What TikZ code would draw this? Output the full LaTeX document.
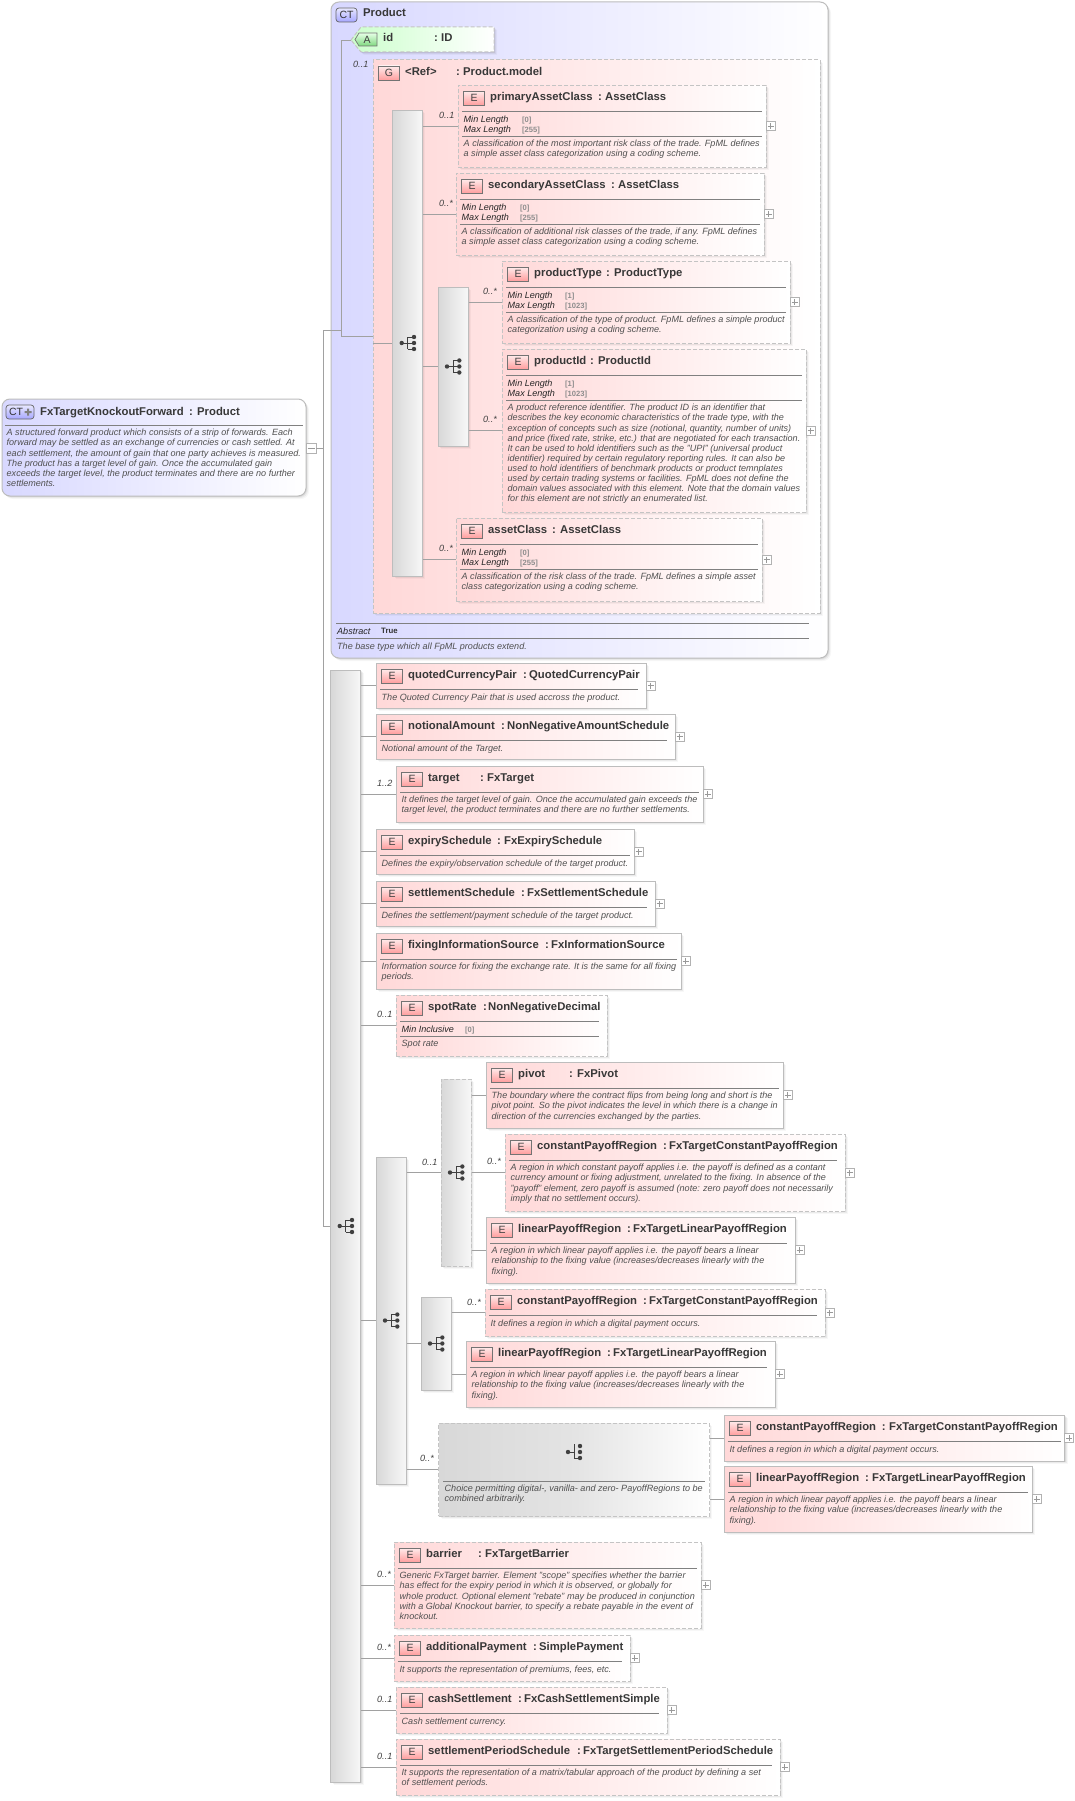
\documentclass[tikz,border=0pt]{standalone}
\usepackage{fontspec}
\setmainfont{Liberation Sans}
\usetikzlibrary{shadows,calc}
\definecolor{pinkf}{HTML}{FFD8D8}
\definecolor{bluef}{HTML}{D8D8FF}
\definecolor{greenf}{HTML}{CCFFCC}
\definecolor{greyf}{HTML}{D8D8D8}
\definecolor{edge}{HTML}{BDBDBD}
\definecolor{dashc}{HTML}{C4C4C4}
\definecolor{txt}{HTML}{383838}
\definecolor{dsc}{HTML}{505050}
\tikzset{
  x=1pt,y=-1pt,
  soft/.style={general shadow={shadow xshift=3pt,shadow yshift=-3pt,fill=black,opacity=.03},
               general shadow={shadow xshift=2pt,shadow yshift=-2pt,fill=black,opacity=.05},
               general shadow={shadow xshift=1pt,shadow yshift=-1pt,fill=black,opacity=.07}},
  solidbox/.style={rectangle,inner sep=0,draw=edge,line width=1pt,left color=pinkf,middle color=pinkf!55!white,right color=white,soft},
  dashbox/.style={solidbox,draw=dashc,dash pattern=on 4pt off 2pt,line width=1pt},
  groupbox/.style={dashbox},
  barbox/.style={rectangle,inner sep=0,draw=edge,line width=1pt,left color=greyf,right color=white!97!black,soft},
  dashbar/.style={barbox,draw=dashc,dash pattern=on 4pt off 2pt},
  typebox/.style={rectangle,inner sep=0,rounded corners=8pt,draw=edge,line width=1pt,left color=bluef,middle color=bluef!55!white,right color=white,soft},
  conn/.style={draw=edge!85!black,line width=.7pt},
  rulel/.style={draw=black!50,line width=.55pt},
  etitle/.style={inner sep=0,anchor=base west,text=txt,font=\fontsize{11.3}{13}\selectfont\bfseries},
  desc/.style={inner sep=0,anchor=north west,align=left,text=dsc,font=\fontsize{9.05}{10.13}\selectfont\itshape,execute at begin node={\rule{0pt}{7pt}}},
  facet/.style={inner sep=0,anchor=base west,text=black!85,font=\fontsize{9.05}{10}\selectfont\itshape},
  fval/.style={inner sep=0,anchor=base west,text=black!45,font=\fontsize{7.6}{9}\selectfont\bfseries},
  card/.style={inner sep=0,anchor=base west,text=black!75,font=\fontsize{9.05}{10}\selectfont\itshape},
  eicon/.style={rectangle,inner sep=0,draw=black!55,line width=.7pt,top color=pinkf!50!white,bottom color=red!38!white,minimum width=21pt,minimum height=14pt,text=black!75,font=\fontsize{10.5}{12}\selectfont},
  cticon/.style={rectangle,rounded corners=3pt,inner sep=0,draw=black!60,line width=.7pt,top color=bluef!60!white,bottom color=blue!35!white,minimum height=14pt,text=black!80,font=\fontsize{10.5}{12}\selectfont},
  plusbox/.style={rectangle,inner sep=0,draw=black!30,line width=.6pt,fill=white,minimum size=9pt,
     path picture={\draw[black!40,line width=.6pt] ([xshift=1.5pt]path picture bounding box.west)--([xshift=-1.5pt]path picture bounding box.east)
       ([yshift=-1.5pt]path picture bounding box.north)--([yshift=1.5pt]path picture bounding box.south);}},
  minusbox/.style={rectangle,inner sep=0,draw=black!30,line width=.6pt,fill=white,minimum size=10pt,
     path picture={\draw[black!40,line width=.6pt] ([xshift=1.5pt]path picture bounding box.west)--([xshift=-1.5pt]path picture bounding box.east);}},
}
\newcommand\eboxnp[6]{\def\nm{#1}\def\X{#3}\def\Y{#4}\def\XR{#5}%
  \node[#2,minimum width={#5-#3},minimum height={#6-#4}] (#1) at ({(#3+#5)/2},{(#4+#6)/2}) {};}
\newcommand\ebox[6]{\eboxnp{#1}{#2}{#3}{#4}{#5}{#6}
  \node[plusbox] (#1-plus) at ({#5+4.5},{(#4+#6)/2}) {};}
\newcommand\etitle[5][4]{%
  \node[eicon] (\nm-icon) at (\X+16,\Y+13) {E};
  \node[etitle] (\nm-title) at (\X+32,\Y+15) {#2};
  \node[etitle] (\nm-colon) at (#3,\Y+15) {:};
  \node[etitle] (\nm-type) at (#4,\Y+15) {#5};
  \def\rr{#1}%
  \draw[rulel] (\X+4,\Y+26) -- (\XR-\rr,\Y+26);}
\newcommand\etwo[3][64]{% Min/Max length facets
  \node[facet] (\nm-flab) at (\X+5.5,\Y+37) {Min Length};
  \node[fval] (\nm-fval) at (\X+#1,\Y+37) {[#2]};
  \node[facet] (\nm-glab) at (\X+5.5,\Y+47) {Max Length};
  \node[fval] (\nm-gval) at (\X+#1,\Y+47) {[#3]};
  \draw[rulel] (\X+4,\Y+51) -- (\XR-\rr,\Y+51);}
\newcommand\edesc[2]{\node[desc] (\nm-desc) at (\X+5.5,\Y+#1-4) {#2};}
\newcommand\seqicon[1]{\begin{scope}[shift={(#1.center)}]
  \draw[black!75,line width=.9pt] (-6,0)--(0,0) (0,-6)--(0,6) (0,-6)--(6.3,-6) (0,0)--(6.3,0) (0,6)--(6.3,6);
  \fill[black!75] (-6,0) circle (2.2) (6.3,-6) circle (2.2) (6.3,0) circle (2.2) (6.3,6) circle (2.2);
  \end{scope}}
\newcommand\cardl[4]{\node[card] (#1) at (#2,#3+3) {#4};}
\begin{document}
\begin{tikzpicture}
\useasboundingbox[fill=white] (0,0) rectangle (1075,1801);

% main type
\node[typebox,minimum width=304pt,minimum height=97pt] (main) at (154,447.5) {};
\node[cticon,minimum width=28pt] (main-icon) at (20,412) {CT\kern8pt};
\fill[black!50] (27.2,408.5) rectangle (29.2,415.5) (24.7,411) rectangle (31.7,413);
\node[etitle] (main-title) at (40,415) {FxTargetKnockoutForward};
\node[etitle] (main-colon) at (189,415) {:};
\node[etitle] (main-type) at (197,415) {Product};
\draw[rulel] (5,425) -- (303,425);
\node[desc] (main-desc) at (6.5,429) {A structured forward product which consists of a strip of forwards. Each\\forward may be settled as an exchange of currencies or cash settled. At\\each settlement, the amount of gain that one party achieves is measured.\\The product has a target level of gain. Once the accumulated gain\\exceeds the target level, the product terminates and there are no further\\settlements.};
\node[minusbox] (main-minus) at (311,448) {};
\coordinate (spine) at (323.5,448);

% Product
\node[typebox,minimum width=497pt,minimum height=656pt] (prod) at (579.5,330) {};
\node[cticon,minimum width=21pt] (prod-icon) at (346.5,15) {CT};
\node[etitle] (prod-title) at (363,17) {Product};
\coordinate (pfork) at (341.3,330);

% attribute
\path[draw=dashc,line width=1pt,dash pattern=on 4pt off 2pt,left color=greenf,right color=white,soft]
  (351,40) -- (361,27) -- (494,27) -- (494,52) -- (361,52) -- cycle;
\coordinate (attr) at (351,40);
\path[draw=black!55,line width=.7pt,top color=greenf!50!white,bottom color=green!70!black!50!white]
  (355,39.5) -- (359,33) -- (377,33) -- (377,46) -- (359,46) -- cycle;
\node[inner sep=0,text=black!75,font=\fontsize{10.5}{12}\selectfont] (attr-icon) at (367,39.7) {A};
\node[etitle] (attr-name) at (383,42) {id};
\node[etitle] (attr-colon) at (434,42) {:};
\node[etitle] (attr-type) at (441,42) {ID};
\cardl{l-attr}{353}{64}{0..1}

% group
\node[groupbox,minimum width=447pt,minimum height=553pt] (grp) at (596.5,336.5) {};
\node[eicon] (grp-icon) at (389,73) {G};
\node[etitle] (grp-title) at (405,75) {<Ref>};
\node[etitle] (grp-colon) at (456,75) {:};
\node[etitle] (grp-type) at (463,75) {Product.model};

% bars of group
\node[barbox,minimum width=29.5pt,minimum height=466pt] (bar1) at (407.7,343) {};
\seqicon{bar1}
\node[barbox,minimum width=30pt,minimum height=159pt] (bar2) at (453,366.5) {};
\seqicon{bar2}

\ebox{primary}{dashbox}{458}{85}{766}{167}
\etitle{primaryAssetClass}{598}{605}{AssetClass}
\etwo{0}{255}
\edesc{59}{A classification of the most important risk class of the trade. FpML defines\\a simple asset class categorization using a coding scheme.}
\cardl{l-primary}{439}{115}{0..1}

\ebox{secondary}{dashbox}{456}{173}{764}{255}
\etitle{secondaryAssetClass}{611}{618}{AssetClass}
\etwo{0}{255}
\edesc{59}{A classification of additional risk classes of the trade, if any. FpML defines\\a simple asset class categorization using a coding scheme.}
\cardl{l-secondary}{439}{203}{0..*}

\ebox{ptype}{dashbox}{502}{261}{790}{343}
\etitle{productType}{606}{614}{ProductType}
\etwo[63]{1}{1023}
\edesc{59}{A classification of the type of product. FpML defines a simple product\\categorization using a coding scheme.}
\cardl{l-ptype}{483}{291}{0..*}

\ebox{pid}{dashbox}{502}{349}{806}{512}
\etitle{productId}{590}{598}{ProductId}
\etwo[63]{1}{1023}
\edesc{59}{A product reference identifier. The product ID is an identifier that\\describes the key economic characteristics of the trade type, with the\\exception of concepts such as size (notional, quantity, number of units)\\and price (fixed rate, strike, etc.) that are negotiated for each transaction.\\It can be used to hold identifiers such as the "UPI" (universal product\\identifier) required by certain regulatory reporting rules. It can also be\\used to hold identifiers of benchmark products or product temnplates\\used by certain trading systems or facilities. FpML does not define the\\domain values associated with this element. Note that the domain values\\for this element are not strictly an enumerated list.}
\cardl{l-pid}{483}{419}{0..*}

\ebox{assetc}{dashbox}{456}{518}{762}{601}
\etitle{assetClass}{552}{560}{AssetClass}
\etwo{0}{255}
\edesc{59}{A classification of the risk class of the trade. FpML defines a simple asset\\class categorization using a coding scheme.}
\cardl{l-assetc}{439}{548}{0..*}

% abstract facets
\draw[rulel] (336,623) -- (809,623);
\node[facet] (abs-lab) at (337,634) {Abstract};
\node[inner sep=0,anchor=base west,text=black!80,font=\fontsize{7.8}{9}\selectfont\bfseries] (abs-val) at (381,633.5) {True};
\draw[rulel] (336,638) -- (809,638);
\node[desc] (prod-desc) at (337,642) {The base type which all FpML products extend.};

% big sequence
\node[barbox,minimum width=30pt,minimum height=1112pt] (bar0) at (345.7,1226) {};
\seqicon{bar0}

\ebox{quoted}{solidbox}{376}{663}{646}{708}
\etitle[8]{quotedCurrencyPair}{523}{529}{QuotedCurrencyPair}
\edesc{34}{The Quoted Currency Pair that is used accross the product.}

\ebox{notional}{solidbox}{376}{714}{675}{759}
\etitle[8]{notionalAmount}{501}{507}{NonNegativeAmountSchedule}
\edesc{34}{Notional amount of the Target.}

\ebox{target}{solidbox}{396}{766}{703}{822}
\etitle{target}{480}{487}{FxTarget}
\edesc{34}{It defines the target level of gain. Once the accumulated gain exceeds the\\target level, the product terminates and there are no further settlements.}
\cardl{l-target}{377}{783}{1..2}

\ebox{expiry}{solidbox}{376}{829}{634}{874}
\etitle{expirySchedule}{497}{504}{FxExpirySchedule}
\edesc{34}{Defines the expiry/observation schedule of the target product.}

\ebox{settle}{solidbox}{376}{881}{655}{926}
\etitle[8]{settlementSchedule}{521}{527}{FxSettlementSchedule}
\edesc{34}{Defines the settlement/payment schedule of the target product.}

\ebox{fixing}{solidbox}{376}{933}{681}{989}
\etitle{fixingInformationSource}{545}{551}{FxInformationSource}
\edesc{34}{Information source for fixing the exchange rate. It is the same for all fixing\\periods.}

\eboxnp{spot}{dashbox}{396}{995}{607}{1056}
\etitle[8]{spotRate}{483}{488}{NonNegativeDecimal}
\node[facet] (spot-flab) at (\X+5.5,\Y+37) {Min Inclusive};
\node[fval] (spot-fval) at (\X+69,\Y+37) {[0]};
\draw[rulel] (\X+4,\Y+41) -- (\XR-8,\Y+41);
\edesc{48}{Spot rate}
\cardl{l-spot}{377}{1014}{0..1}

% payoff structure
\node[barbox,minimum width=30pt,minimum height=327pt] (bar3) at (391,1320.5) {};
\seqicon{bar3}
\node[dashbar,minimum width=30pt,minimum height=187pt] (cho1) at (456,1172.5) {};
\seqicon{cho1}
\cardl{l-cho1}{422}{1162}{0..1}

\ebox{pivot}{solidbox}{486}{1062}{783}{1128}
\etitle{pivot}{569}{577}{FxPivot}
\edesc{34}{The boundary where the contract flips from being long and short is the\\pivot point. So the pivot indicates the level in which there is a change in\\direction of the currencies exchanged by the parties.}

\ebox{const1}{dashbox}{505}{1134}{845}{1211}
\etitle[8]{constantPayoffRegion}{663}{669}{FxTargetConstantPayoffRegion}
\edesc{34}{A region in which constant payoff applies i.e. the payoff is defined as a contant\\currency amount or fixing adjustment, unrelated to the fixing. In absence of the\\"payoff" element, zero payoff is assumed (note: zero payoff does not necessarily\\imply that no settlement occurs).}
\cardl{l-const1}{487}{1161}{0..*}

\ebox{lin1}{solidbox}{486}{1217}{795}{1283}
\etitle[8]{linearPayoffRegion}{627}{633}{FxTargetLinearPayoffRegion}
\edesc{34}{A region in which linear payoff applies i.e. the payoff bears a linear\\relationship to the fixing value (increases/decreases linearly with the\\fixing).}

\node[barbox,minimum width=30pt,minimum height=93pt] (bar4) at (436,1343.5) {};
\seqicon{bar4}

\ebox{const2}{dashbox}{485}{1289}{825}{1336}
\etitle[8]{constantPayoffRegion}{643}{649}{FxTargetConstantPayoffRegion}
\edesc{34}{It defines a region in which a digital payment occurs.}
\cardl{l-const2}{467}{1302}{0..*}

\ebox{lin2}{solidbox}{466}{1341}{775}{1407}
\etitle[8]{linearPayoffRegion}{607}{613}{FxTargetLinearPayoffRegion}
\edesc{34}{A region in which linear payoff applies i.e. the payoff bears a linear\\relationship to the fixing value (increases/decreases linearly with the\\fixing).}

% choice with annotation
\node[dashbar,right color=white,middle color=greyf!70!white,minimum width=270.5pt,minimum height=93pt] (cho2) at (574.2,1469.5) {};
\draw[black!75,line width=.9pt] (568,1452)--(574,1452) (574,1444)--(574,1458)--(580,1458);
\fill[black!75] (568,1452) circle (2.2) (580,1446) circle (2.2) (580,1452) circle (2.2) (580,1458) circle (2.2);
\draw[rulel] (443,1481) -- (705,1481);
\node[desc] (cho2-desc) at (444.5,1485) {Choice permitting digital-, vanilla- and zero- PayoffRegions to be\\combined arbitrarily.};
\cardl{l-cho2}{420}{1458}{0..*}

\ebox{const3}{solidbox}{724}{1415}{1064.5}{1461}
\etitle{constantPayoffRegion}{881.6}{889}{FxTargetConstantPayoffRegion}
\edesc{34}{It defines a region in which a digital payment occurs.}

\ebox{lin3}{solidbox}{724}{1466}{1032}{1532}
\etitle{linearPayoffRegion}{865}{872}{FxTargetLinearPayoffRegion}
\edesc{34}{A region in which linear payoff applies i.e. the payoff bears a linear\\relationship to the fixing value (increases/decreases linearly with the\\fixing).}

\ebox{barrier}{dashbox}{394}{1542}{701}{1628}
\etitle{barrier}{478}{485}{FxTargetBarrier}
\edesc{34}{Generic FxTarget barrier. Element "scope" specifies whether the barrier\\has effect for the expiry period in which it is observed, or globally for\\whole product. Optional element "rebate" may be produced in conjunction\\with a Global Knockout barrier, to specify a rebate payable in the event of\\knockout.}
\cardl{l-barrier}{377}{1574}{0..*}

\ebox{addpay}{dashbox}{394}{1635}{630}{1681}
\etitle[8]{additionalPayment}{533}{539}{SimplePayment}
\edesc{34}{It supports the representation of premiums, fees, etc.}
\cardl{l-addpay}{377}{1647}{0..*}

\ebox{cash}{dashbox}{396}{1687}{667}{1733}
\etitle[8]{cashSettlement}{518}{524}{FxCashSettlementSimple}
\edesc{34}{Cash settlement currency.}
\cardl{l-cash}{377}{1699}{0..1}

\ebox{period}{dashbox}{396}{1739}{780}{1795}
\etitle[8]{settlementPeriodSchedule}{577}{583}{FxTargetSettlementPeriodSchedule}
\edesc{34}{It supports the representation of a matrix/tabular approach of the product by defining a set\\of settlement periods.}
\cardl{l-period}{377}{1756}{0..1}

% connectors
\draw[conn] (main-minus.east) -- (spine);
\draw[conn] (spine |- prod.west) -- (spine |- bar0.west) -- (bar0.west);
\draw[conn] (spine |- prod.west) -- (pfork);
\draw[conn] (attr) -- (attr -| pfork) -- (pfork |- grp.west) -- (grp.west);
\draw[conn] (grp.west |- bar1.west) -- (bar1.west);
\draw[conn] (bar1.east |- primary.west) -- (primary.west);
\draw[conn] (bar1.east |- secondary.west) -- (secondary.west);
\draw[conn] (bar1.east |- bar2.west) -- (bar2.west);
\draw[conn] (bar2.east |- ptype.west) -- (ptype.west);
\draw[conn] (bar2.east |- pid.west) -- (pid.west);
\draw[conn] (bar1.east |- assetc.west) -- (assetc.west);
\foreach \e in {quoted,notional,target,expiry,settle,fixing,spot,bar3,barrier,addpay,cash,period}
  \draw[conn] (bar0.east |- \e.west) -- (\e.west);
\draw[conn] (bar3.east |- cho1.west) -- (cho1.west);
\draw[conn] (bar3.east |- bar4.west) -- (bar4.west);
\draw[conn] (bar3.east |- cho2.west) -- (cho2.west);
\draw[conn] (cho1.east |- pivot.west) -- (pivot.west);
\draw[conn] (cho1.east |- const1.west) -- (const1.west);
\draw[conn] (cho1.east |- lin1.west) -- (lin1.west);
\draw[conn] (bar4.east |- const2.west) -- (const2.west);
\draw[conn] (bar4.east |- lin2.west) -- (lin2.west);
\draw[conn] (cho2.east |- const3.west) -- (const3.west);
\draw[conn] (cho2.east |- lin3.west) -- (lin3.west);
\end{tikzpicture}
\end{document}
